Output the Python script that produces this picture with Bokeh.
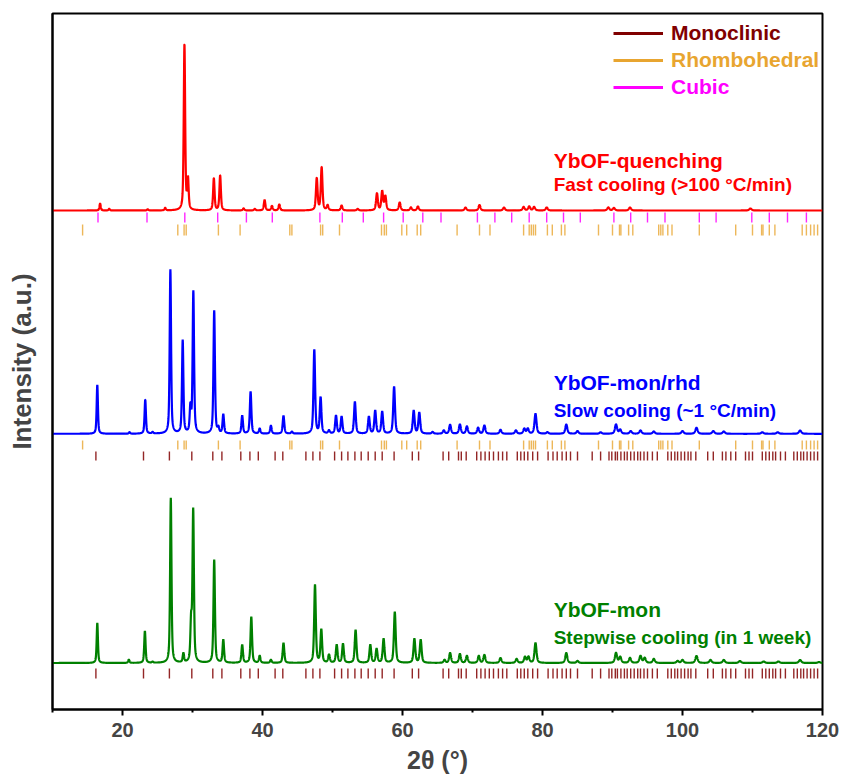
import numpy as np
from bokeh.plotting import figure
from bokeh.models import Range1d, FixedTicker, Label, Legend, LegendItem
from bokeh.embed import file_html
from bokeh.resources import INLINE

# ---------------- data ----------------
# peak positions (2theta, deg) and peak heights (a.u.) for each sample
red_pos = [16.8, 18.1, 23.6, 26.1, 28.85, 29.35, 33.05, 33.95, 37.3, 38.9, 40.3, 41.35, 42.4,
           47.75, 48.45, 49.3, 51.3, 53.6, 56.35, 57.1, 57.55, 59.6, 61.2, 62.2, 69.0, 71.0,
           74.5, 77.3, 78.1, 78.8, 80.6, 89.4, 90.2, 92.5, 109.7]
red_int = [7, 1.7, 1.2, 2.5, 166, 30, 32, 35, 2, 1.5, 10.5, 4.5, 6,
           32, 43, 5, 5, 1.5, 17, 19, 14, 8, 3, 4, 3, 5.5,
           3, 3.5, 4, 3.5, 3, 3, 2.5, 3, 2]

blue_pos = [16.4, 21.0, 23.25, 24.3, 26.84, 28.6, 29.7, 30.12, 33.1, 33.7, 34.4, 37.1, 38.3, 39.6,
            41.2, 43.0, 44.2, 47.4, 48.3, 49.5, 50.5, 51.3, 53.2, 55.2, 56.1, 57.1, 58.8, 61.6,
            62.4, 64.3, 65.9, 66.8, 68.2, 69.2, 70.8, 71.7, 74.0, 76.2, 77.4, 77.9, 79.0, 80.7,
            83.4, 85.0, 88.3, 90.5, 91.1, 92.6, 94.0, 95.9, 100.0, 102.0, 104.4, 105.9, 111.4,
            113.6, 116.8]
blue_int = [49, 1.5, 34, 1.5, 164, 93, 25, 142, 123, 5, 19, 18, 42, 5,
            8, 18, 2, 84, 36, 3, 18, 17, 32, 17, 23, 22, 47, 23,
            21, 1.7, 3.3, 9, 9.3, 7.3, 6, 8.3, 4, 3.3, 5, 5, 20, 1.5,
            9.3, 2.7, 1.5, 9.3, 4, 2.7, 3.3, 2.3, 2.7, 6, 2.7, 2.3, 1.5,
            1.5, 3.3]

green_pos = [16.4, 20.9, 23.2, 24.3, 26.9, 28.7, 29.8, 30.1, 33.1, 34.4, 37.1, 38.4, 39.6, 41.2,
             43.0, 47.5, 48.4, 49.5, 50.6, 51.5, 53.3, 55.4, 56.3, 57.3, 58.9, 61.7, 62.6, 66.0,
             66.8, 68.2, 69.2, 70.9, 71.7, 74.0, 76.3, 77.5, 78.0, 79.0, 83.4, 85.0, 90.5, 91.1,
             92.5, 94.0, 94.6, 95.9, 99.3, 100.0, 102.0, 104.0, 105.9, 108.2, 111.6, 113.7,
             116.8, 119.5]
green_int = [40, 3.3, 32, 1, 165, 9, 39, 152, 103, 23, 18, 46, 7, 3,
             20, 78, 33, 8, 18, 19, 33, 18, 14, 24, 51, 24, 23, 3,
             10, 9, 7, 7, 8, 5, 4, 6, 6, 20, 10, 2, 10, 6,
             5, 7, 5, 4, 2, 3, 7, 3, 3, 2, 1.5, 1.5,
             3, 1]

# reference reflection positions (2theta, deg)
cubic_refl = [16.5, 23.5, 28.9, 33.6, 37.7, 41.4, 48.2, 51.4, 54.4, 57.3, 60.1, 62.9, 65.5,
              70.7, 73.2, 75.6, 78.1, 80.6, 83.0, 85.4, 90.2, 92.6, 95.0, 97.5, 102.4, 104.8,
              109.9, 112.4, 115.0, 117.7]
rhomb_refl = [14.3, 27.9, 28.8, 29.1, 33.7, 36.8, 43.9, 44.2, 48.3, 48.6, 51.0, 57.0, 57.4,
              57.7, 59.9, 60.6, 62.1, 62.6, 67.8, 71.0, 72.5, 77.3, 78.1, 78.4, 78.7, 79.0,
              80.7, 81.4, 82.7, 83.2, 88.0, 90.0, 91.0, 91.2, 92.3, 92.9, 96.6, 96.9, 97.2,
              97.9, 98.5, 102.4, 107.6, 110.0, 111.3, 111.5, 112.4, 113.2, 117.1, 117.7,
              118.3, 118.8, 119.3]
mono_refl = [16.2, 23.0, 26.7, 29.9, 32.9, 34.2, 36.9, 38.2, 39.4, 41.8, 42.9, 46.2, 47.2,
             48.2, 50.3, 51.3, 52.2, 53.2, 54.1, 55.1, 56.1, 57.1, 58.8, 61.4, 62.3, 65.8,
             66.6, 68.0, 68.4, 69.1, 70.6, 71.2, 71.8, 72.4, 73.0, 73.7, 74.3, 74.9, 76.4,
             76.9, 77.4, 77.9, 78.6, 79.3, 80.8, 81.5, 82.1, 82.8, 83.4, 84.0, 85.0, 87.1,
             88.3, 89.5, 89.9, 90.4, 90.7, 91.2, 91.7, 92.1, 92.6, 93.1, 93.6, 94.0, 94.5,
             95.0, 95.7, 96.4, 97.9, 98.4, 98.9, 99.3, 99.8, 100.3, 100.8, 101.2, 101.9,
             103.6, 104.4, 105.7, 106.2, 106.9, 107.6, 109.0, 109.5, 110.0, 111.4, 111.9,
             112.4, 112.9, 113.3, 114.0, 114.7, 115.9, 116.4, 116.9, 117.3, 117.8, 118.3,
             118.8, 119.3]

x_ticks = [20, 40, 60, 80, 100, 120]
x_minor = [10, 30, 50, 70, 90, 110]

# ---------------- layout constants ----------------
RED_BASE, BLUE_BASE, GREEN_BASE = 499.0, 275.7, 46.5
C_RED, C_BLUE, C_GREEN = "#FF0000", "#0000FF", "#008000"
C_MONO, C_RHOMB, C_CUBIC = "#800000", "#E8A530", "#FF00FF"
FONT = "Liberation Sans"

x = np.arange(10.0, 120.0001, 0.02)


def pattern(pos, hts, base):
    y = np.full_like(x, base)
    for c, h in zip(pos, hts):
        w = 0.2 + 0.002 * (c - 10)
        d = 2.0 * (x - c) / w
        y += h * (0.55 / (1.0 + d * d) + 0.45 * np.exp(-np.log(2) * d * d))
    return y


p = figure(width=844, height=776, output_backend="svg", toolbar_location=None,
           x_range=Range1d(10, 120), y_range=Range1d(0, 696),
           min_border_left=52, min_border_right=22, min_border_top=13, min_border_bottom=67)
p.xgrid.visible = False
p.ygrid.visible = False
p.outline_line_color = "black"
p.outline_line_width = 2
p.background_fill_color = "white"
p.border_fill_color = "white"

p.line(x, pattern(red_pos, red_int, RED_BASE), line_color=C_RED, line_width=2.2)
p.line(x, pattern(blue_pos, blue_int, BLUE_BASE), line_color=C_BLUE, line_width=2.2)
p.line(x, pattern(green_pos, green_int, GREEN_BASE), line_color=C_GREEN, line_width=2.2)


def tick_row(vals, y0, y1):
    return dict(x0=list(vals), x1=list(vals), y0=[y0] * len(vals), y1=[y1] * len(vals))


cub = tick_row(cubic_refl, 487, 497)
p.segment(**cub, line_color=C_CUBIC, line_width=1.4, line_alpha=0.85)
rh1 = tick_row(rhomb_refl, 474, 485)
rh2 = tick_row(rhomb_refl, 260, 269)
p.segment(x0=rh1["x0"] + rh2["x0"], x1=rh1["x1"] + rh2["x1"], y0=rh1["y0"] + rh2["y0"],
          y1=rh1["y1"] + rh2["y1"], line_color=C_RHOMB, line_width=1.4, line_alpha=0.8)
m1 = tick_row(mono_refl, 249, 258)
m2 = tick_row(mono_refl, 31, 41)
p.segment(x0=m1["x0"] + m2["x0"], x1=m1["x1"] + m2["x1"], y0=m1["y0"] + m2["y0"],
          y1=m1["y1"] + m2["y1"], line_color=C_MONO, line_width=1.4, line_alpha=0.85)

# legend (one legend per phase so each label gets its own colour)
legend_rows = [("Monoclinic", C_MONO, 664), ("Rhombohedral", C_RHOMB, 637), ("Cubic", C_CUBIC, 610)]
for lab, col, ypos in legend_rows:
    r = p.line([np.nan], [np.nan], line_color=col, line_width=3)
    lg = Legend(items=[LegendItem(label=lab, renderers=[r])], location=(561, ypos),
                label_text_color=col, label_text_font=FONT, label_text_font_style="bold",
                label_text_font_size="21px", glyph_width=50, glyph_height=20, label_height=20,
                label_standoff=8, padding=0, margin=0, spacing=0,
                border_line_color=None, background_fill_alpha=0)
    p.add_layout(lg)

# sample labels
texts = [("YbOF-quenching", 549, "21px", C_RED), ("Fast cooling (>100 °C/min)", 525, "19px", C_RED),
         ("YbOF-mon/rhd", 327, "21px", C_BLUE), ("Slow cooling (~1 °C/min)", 299, "19px", C_BLUE),
         ("YbOF-mon", 100, "21px", C_GREEN), ("Stepwise cooling (in 1 week)", 72, "19px", C_GREEN)]
for t, yy, fs, col in texts:
    p.add_layout(Label(x=81.6, y=yy, text=t, text_color=col, text_font=FONT, text_font_style="bold",
                       text_font_size=fs, text_baseline="middle"))

# axes
p.xaxis.ticker = FixedTicker(ticks=x_ticks, minor_ticks=x_minor)
p.xaxis.axis_label = "2θ (°)"
p.xaxis.axis_line_width = 2
p.xaxis.major_tick_line_width = 2
p.xaxis.minor_tick_line_width = 2
p.xaxis.major_tick_out = 6
p.xaxis.major_tick_in = 0
p.xaxis.minor_tick_out = 3
p.xaxis.minor_tick_in = 0
p.xaxis.major_label_text_font = FONT
p.xaxis.major_label_text_font_style = "bold"
p.xaxis.major_label_text_font_size = "20px"
p.xaxis.major_label_standoff = 7
p.xaxis.axis_label_text_font = FONT
p.xaxis.axis_label_text_font_style = "bold"
p.xaxis.axis_label_text_font_size = "25px"
p.xaxis.axis_label_standoff = 6

p.yaxis.ticker = FixedTicker(ticks=[])
p.yaxis.axis_label = "Intensity (a.u.)"
p.yaxis.axis_line_width = 2
p.yaxis.major_tick_line_color = None
p.yaxis.minor_tick_line_color = None
p.yaxis.major_label_text_font_size = "0px"
p.yaxis.axis_label_text_font = FONT
p.yaxis.axis_label_text_font_style = "bold"
p.yaxis.axis_label_text_font_size = "26px"
p.yaxis.axis_label_standoff = 16

open("out.html", "w").write(file_html(p, INLINE))
